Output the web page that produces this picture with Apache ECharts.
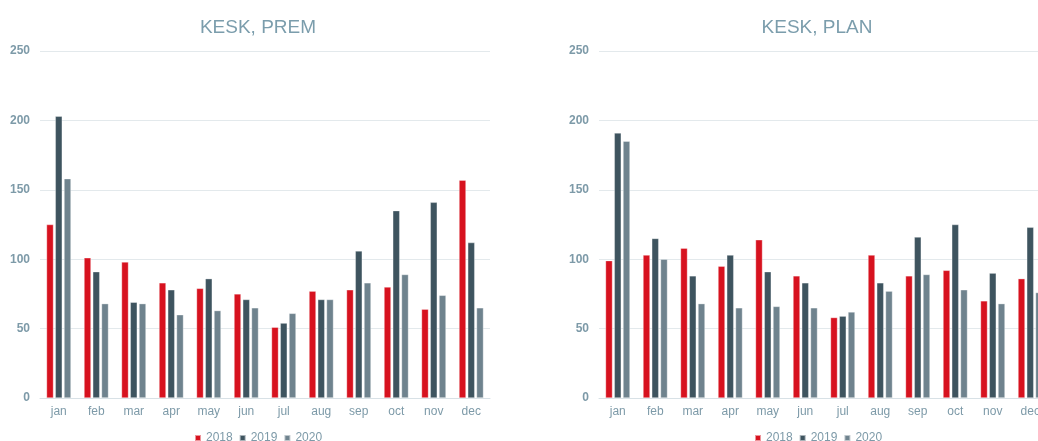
<!DOCTYPE html>
<html>
<head>
<meta charset="utf-8">
<script src="https://cdn.jsdelivr.net/npm/echarts@6/dist/echarts.min.js"></script>
<style>
  html, body { margin: 0; padding: 0; background: #ffffff; }
  #chart { width: 1038px; height: 441px; }
</style>
</head>
<body>
<div id="chart"></div>
<script>
// Monthly values for the two panels
const months = ['jan','feb','mar','apr','may','jun','jul','aug','sep','oct','nov','dec'];
const years = ['2018','2019','2020'];

const prem2018 = [125, 101, 98, 83, 79, 75, 51, 77, 78, 80, 64, 157];
const prem2019 = [203, 91, 69, 78, 86, 71, 54, 71, 106, 135, 141, 112];
const prem2020 = [158, 68, 68, 60, 63, 65, 61, 71, 83, 89, 74, 65];

const plan2018 = [99, 103, 108, 95, 114, 88, 58, 103, 88, 92, 70, 86];
const plan2019 = [191, 115, 88, 103, 91, 83, 59, 83, 116, 125, 90, 123];
const plan2020 = [185, 100, 68, 65, 66, 65, 62, 77, 89, 78, 68, 76];

const yTicks = [0, 50, 100, 150, 200, 250];
const titles = ['KESK, PREM', 'KESK, PLAN'];

const colors = ['#d7121f', '#3e545f', '#6f838e'];
const labelColor = '#7d9aa8';
const gridColor = '#e3e9ec';
const font = '"Liberation Sans", Arial, sans-serif';

// The right panel runs past the page edge, so its grid is allowed to overflow
const panels = [
  { grid: { left: 40, top: 51, width: 450, height: 347 }, data: [prem2018, prem2019, prem2020], titleX: 253, legendX: 194 },
  { grid: { left: 599, top: 51, width: 450, height: 347 }, data: [plan2018, plan2019, plan2020], titleX: 812, legendX: 754 }
];

const option = {
  animation: false,
  backgroundColor: '#ffffff',
  textStyle: { fontFamily: font },
  title: panels.map((p, i) => ({
    text: titles[i],
    left: p.titleX,
    top: 13,
    textAlign: 'center',
    textStyle: { color: '#7b9dac', fontSize: 19, fontWeight: 'normal', fontFamily: font }
  })),
  legend: panels.map((p, i) => ({
    data: years,
    left: p.legendX,
    top: 432,
    padding: 0,
    itemWidth: 6,
    itemHeight: 6,
    itemGap: 6,
    icon: 'rect',
    textStyle: { color: labelColor, fontSize: 12, fontFamily: font },
    selectedMode: false
  })),
  grid: panels.map(p => Object.assign({ containLabel: false, outerBoundsMode: 'none' }, p.grid)),
  xAxis: panels.map((p, i) => ({
    type: 'category',
    gridIndex: i,
    data: months,
    axisLine: { lineStyle: { color: '#d8e1e6' } },
    axisTick: { show: false },
    axisLabel: { color: labelColor, fontSize: 12, margin: 8, fontFamily: font }
  })),
  yAxis: panels.map((p, i) => ({
    type: 'value',
    gridIndex: i,
    min: yTicks[0],
    max: yTicks[yTicks.length - 1],
    interval: 50,
    axisLine: { show: false },
    axisTick: { show: false },
    splitLine: { lineStyle: { color: gridColor } },
    axisLabel: { color: labelColor, fontSize: 12, margin: 10, fontWeight: 'bold', fontFamily: font }
  })),
  series: []
};

panels.forEach((p, i) => {
  years.forEach((y, k) => {
    option.series.push({
      name: y,
      type: 'bar',
      xAxisIndex: i,
      yAxisIndex: i,
      data: p.data[k],
      barWidth: 7,
      barGap: '25%',
      itemStyle: { color: colors[k], borderColor: 'rgba(255,255,255,0.55)', borderWidth: 0.6 }
    });
  });
});

const chart = echarts.init(document.getElementById('chart'), null, { renderer: 'canvas' });
chart.setOption(option);
</script>
</body>
</html>
